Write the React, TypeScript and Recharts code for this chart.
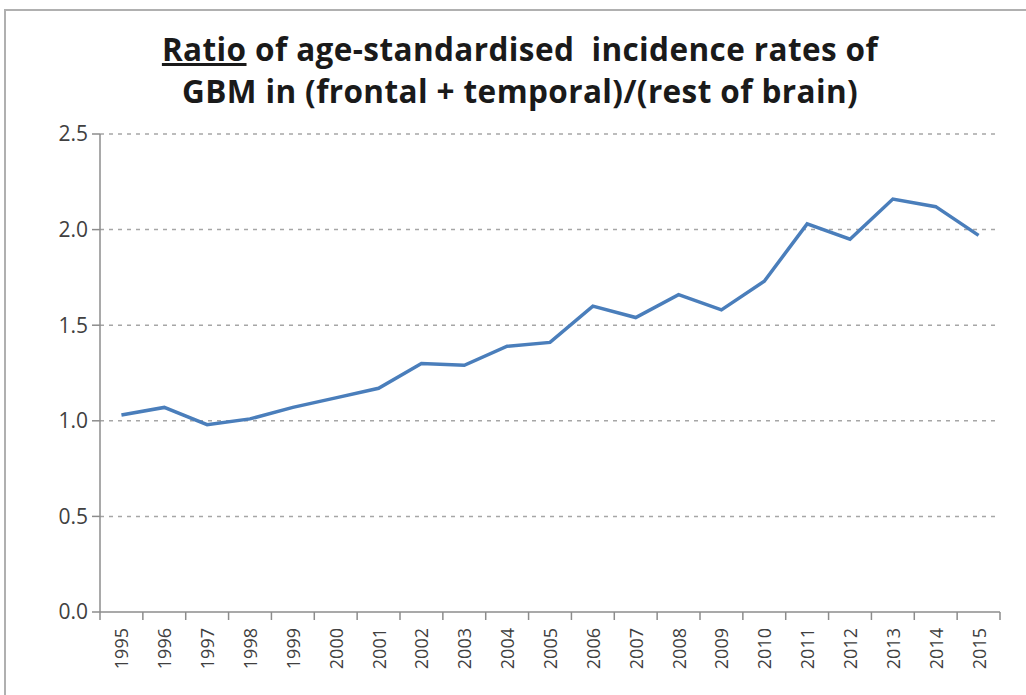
import React from "react";
import { LineChart, Line, XAxis, YAxis, CartesianGrid } from "recharts";

const years = ["1995","1996","1997","1998","1999","2000","2001","2002","2003","2004","2005","2006","2007","2008","2009","2010","2011","2012","2013","2014","2015"];
const ratios = [1.03,1.07,0.98,1.01,1.07,1.12,1.17,1.30,1.29,1.39,1.41,1.60,1.54,1.66,1.58,1.73,2.03,1.95,2.16,2.12,1.97];
const yTicks = [0, 0.5, 1, 1.5, 2, 2.5];
const titleLine1Underlined = "Ratio";
const titleLine1Rest = " of age-standardised  incidence rates of";
const titleLine2 = "GBM in (frontal + temporal)/(rest of brain)";

const data = years.map((y, i) => ({ year: y, ratio: ratios[i] }));

const W = 1026;
const H = 695;
const M = { top: 134, right: 26, bottom: 13, left: 40 };
const Y_W = 60;
const X_H = 70;
const FONT = "'Open Sans', sans-serif";

const plotW = W - M.left - M.right - Y_W;
const band = plotW / years.length;

const XTick = (props: any) => {
  const { x, y, payload, index } = props;
  return (
    <g>
      <line x1={x - band / 2} x2={x - band / 2} y1={y - 8} y2={y} stroke="#8c8c8c" strokeWidth={1.5} />
      {index === years.length - 1 && (
        <line x1={x + band / 2} x2={x + band / 2} y1={y - 8} y2={y} stroke="#8c8c8c" strokeWidth={1.5} />
      )}
      <text
        x={x}
        y={y + 8}
        transform={`rotate(-90, ${x}, ${y + 8})`}
        textAnchor="end"
        dominantBaseline="central"
        fill="#404040"
        fontSize={18}
        fontFamily={FONT}
      >
        {payload.value}
      </text>
    </g>
  );
};

export default function App() {
  return (
    <div style={{ position: "absolute", left: 0, top: 0, width: W, height: H, background: "#fff", overflow: "hidden" }}>
      <div
        style={{
          position: "absolute",
          left: 4,
          top: 9,
          width: 1040,
          height: 720,
          border: "2px solid #b0b0b0",
          boxSizing: "border-box",
        }}
      />
      <div
        style={{
          position: "absolute",
          left: 0,
          top: 28,
          width: 1040,
          textAlign: "center",
          fontFamily: FONT,
          fontWeight: "bold",
          fontSize: 31.5,
          letterSpacing: 0.4,
          lineHeight: "42px",
          color: "#1a1a1a",
          whiteSpace: "pre",
        }}
      >
        <div>
          <span style={{ textDecoration: "underline" }}>{titleLine1Underlined}</span>
          {titleLine1Rest}
        </div>
        <div>{titleLine2}</div>
      </div>
      <div style={{ position: "absolute", left: 0, top: 0 }}>
        <LineChart width={W} height={H} data={data} margin={M}>
          <CartesianGrid
            vertical={false}
            horizontalValues={[0.5, 1, 1.5, 2, 2.5]}
            stroke="#a6a6a6"
            strokeDasharray="4 5"
            strokeWidth={1.5}
          />
          <XAxis
            dataKey="year"
            height={X_H}
            interval={0}
            tickLine={false}
            padding={{ left: band / 2, right: band / 2 }}
            axisLine={{ stroke: "#8c8c8c", strokeWidth: 1.5 }}
            tick={<XTick />}
          />
          <YAxis
            width={Y_W}
            domain={[0, 2.5]}
            ticks={yTicks}
            tickFormatter={(v: number) => v.toFixed(1)}
            axisLine={{ stroke: "#8c8c8c", strokeWidth: 1.5 }}
            tickLine={{ stroke: "#8c8c8c", strokeWidth: 1.5 }}
            tickSize={8}
            tickMargin={4}
            tick={{ fill: "#404040", fontSize: 21, fontFamily: FONT }}
          />
          <Line
            type="linear"
            dataKey="ratio"
            stroke="#4a7ebb"
            strokeWidth={3.5}
            dot={false}
            isAnimationActive={false}
          />
        </LineChart>
      </div>
    </div>
  );
}
